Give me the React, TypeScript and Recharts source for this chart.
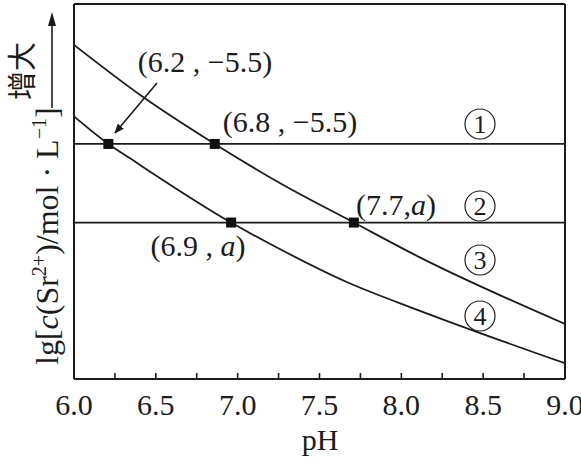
import React from 'react';
import {
    ComposedChart,
    Line,
    Scatter,
    XAxis,
    YAxis,
    ReferenceLine,
} from 'recharts';

// curve ③/④ boundary (upper) and curve ②/④ boundary (lower)
const upperPH = [6.0, 6.42, 6.86, 7.26, 7.71, 8.11, 9.0];
const upperLg = [-4.24, -4.9, -5.5, -6.0, -6.5, -6.94, -7.79];
const lowerPH = [6.0, 6.21, 6.34, 6.96, 7.26, 7.67, 8.11, 9.0];
const lowerLg = [-5.15, -5.5, -5.68, -6.5, -6.84, -7.26, -7.62, -8.29];

// horizontal levels: -5.5 and a
const levels = [-5.5, -6.5];

// marked points (where the square sits in the picture)
const markPH = [6.21, 6.86, 6.96, 7.71];
const markLg = [-5.5, -5.5, -6.5, -6.5];

const xTicks = [6.0, 6.25, 6.5, 6.75, 7.0, 7.25, 7.5, 7.75, 8.0, 8.25, 8.5, 8.75, 9.0];
const yDomain = [-8.49, -3.72];

const upperData = upperPH.map((p, i) => ({ pH: p, lg: upperLg[i] }));
const lowerData = lowerPH.map((p, i) => ({ pH: p, lg: lowerLg[i] }));
const markData = markPH.map((p, i) => ({ pH: p, lg: markLg[i] }));

const INK = '#1c1c1c';
const SERIF = 'Liberation Serif, DejaVu Serif, serif';
const serif = { fontFamily: SERIF };

const PH_TICK = (props: any) => {
    const { x, y, payload } = props;
    const v = payload.value;
    const major = Math.abs(v * 2 - Math.round(v * 2)) < 1e-6;
    const edge = v === 6 || v === 9;
    return (
        <g>
            {!edge && <line x1={x} x2={x} y1={y} y2={y - 6} stroke={INK} strokeWidth={1.6} />}
            {major && (
                <text x={x} y={y + 36} textAnchor="middle" fontSize={30} style={serif} fill={INK}>
                    {v.toFixed(1)}
                </text>
            )}
        </g>
    );
};

const Square = (props: any) => {
    const { cx, cy } = props;
    return <rect x={cx - 5} y={cy - 5} width={10} height={10} fill="#111" />;
};

const Circled = ({ cx, cy, n }: { cx: number; cy: number; n: string }) => (
    <g>
        <circle cx={cx} cy={cy} r={15} fill="none" stroke={INK} strokeWidth={1.2} />
        <text x={cx} y={cy + 9} textAnchor="middle" fontSize={26} style={serif} fill={INK}>
            {n}
        </text>
    </g>
);

export default function App() {
    return (
        <div style={{ position: 'absolute', left: 0, top: 0, width: 581, height: 463, background: '#fff' }}>
            <ComposedChart
                width={581}
                height={463}
                margin={{ top: 4, right: 16, left: 74, bottom: 0 }}
            >
                <XAxis
                    dataKey="pH"
                    type="number"
                    domain={[6, 9]}
                    ticks={xTicks}
                    interval={0}
                    tickSize={0}
                    tickMargin={0}
                    tickLine={false}
                    tick={<PH_TICK />}
                    height={84}
                    axisLine={{ stroke: INK, strokeWidth: 2 }}
                    allowDataOverflow
                />
                <YAxis type="number" domain={yDomain} hide width={0} allowDataOverflow />
                <ReferenceLine x={6} stroke={INK} strokeWidth={2} />
                <ReferenceLine x={9} stroke={INK} strokeWidth={2} />
                <ReferenceLine y={yDomain[1]} stroke={INK} strokeWidth={2} />
                {levels.map((lv) => (
                    <ReferenceLine key={lv} y={lv} stroke={INK} strokeWidth={1.8} />
                ))}
                <Line
                    data={upperData}
                    dataKey="lg"
                    type="monotone"
                    stroke={INK}
                    strokeWidth={1.8}
                    dot={false}
                    isAnimationActive={false}
                />
                <Line
                    data={lowerData}
                    dataKey="lg"
                    type="monotone"
                    stroke={INK}
                    strokeWidth={1.8}
                    dot={false}
                    isAnimationActive={false}
                />
                <Scatter data={markData} dataKey="lg" shape={<Square />} isAnimationActive={false} />
            </ComposedChart>

            {/* annotations */}
            <svg
                width={581}
                height={463}
                style={{ position: 'absolute', left: 0, top: 0, pointerEvents: 'none', fontFamily: SERIF }}
                fill={INK}
            >
                <defs>
                    <marker id="ah" markerWidth={10} markerHeight={8} refX={9} refY={4} orient="auto" markerUnits="userSpaceOnUse">
                        <path d="M0,0 L10,4 L0,8 z" fill={INK} />
                    </marker>
                </defs>

                <text x={205} y={72} textAnchor="middle" fontSize={30}>(6.2 , −5.5)</text>
                <text x={290} y={132} textAnchor="middle" fontSize={30}>(6.8 , −5.5)</text>
                <text x={396} y={215} textAnchor="middle" fontSize={30}>
                    (7.7,<tspan fontStyle="italic">a</tspan>)
                </text>
                <text x={198} y={256} textAnchor="middle" fontSize={30}>
                    (6.9 , <tspan fontStyle="italic">a</tspan>)
                </text>
                <line x1={157} y1={83} x2={115} y2={133} stroke={INK} strokeWidth={1.6} markerEnd="url(#ah)" />

                <Circled cx={480} cy={124} n="1" />
                <Circled cx={480} cy={206} n="2" />
                <Circled cx={480} cy={260} n="3" />
                <Circled cx={480} cy={316} n="4" />

                <text x={320} y={450} textAnchor="middle" fontSize={30}>pH</text>

                {/* y axis title with arrow */}
                <text transform="translate(58,365) rotate(-90)" fontSize={32}>
                    lg[<tspan fontStyle="italic">c</tspan>(Sr<tspan fontSize={20} dy={-12}>2+</tspan>
                    <tspan dy={12}>)/mol · L</tspan>
                    <tspan fontSize={20} dy={-12}>−1</tspan>
                    <tspan dy={12}>]</tspan>
                </text>
                <line x1={52} y1={108} x2={52} y2={24} stroke={INK} strokeWidth={1.6} />
                <path d="M48,26 L52,12 L56,26 z" fill={INK} />
                <text
                    transform="translate(33,100) rotate(-90)"
                    fontSize={29}
                    style={{ fontFamily: '"Noto Sans CJK SC", sans-serif' }}
                >
                    增大
                </text>
            </svg>
        </div>
    );
}
